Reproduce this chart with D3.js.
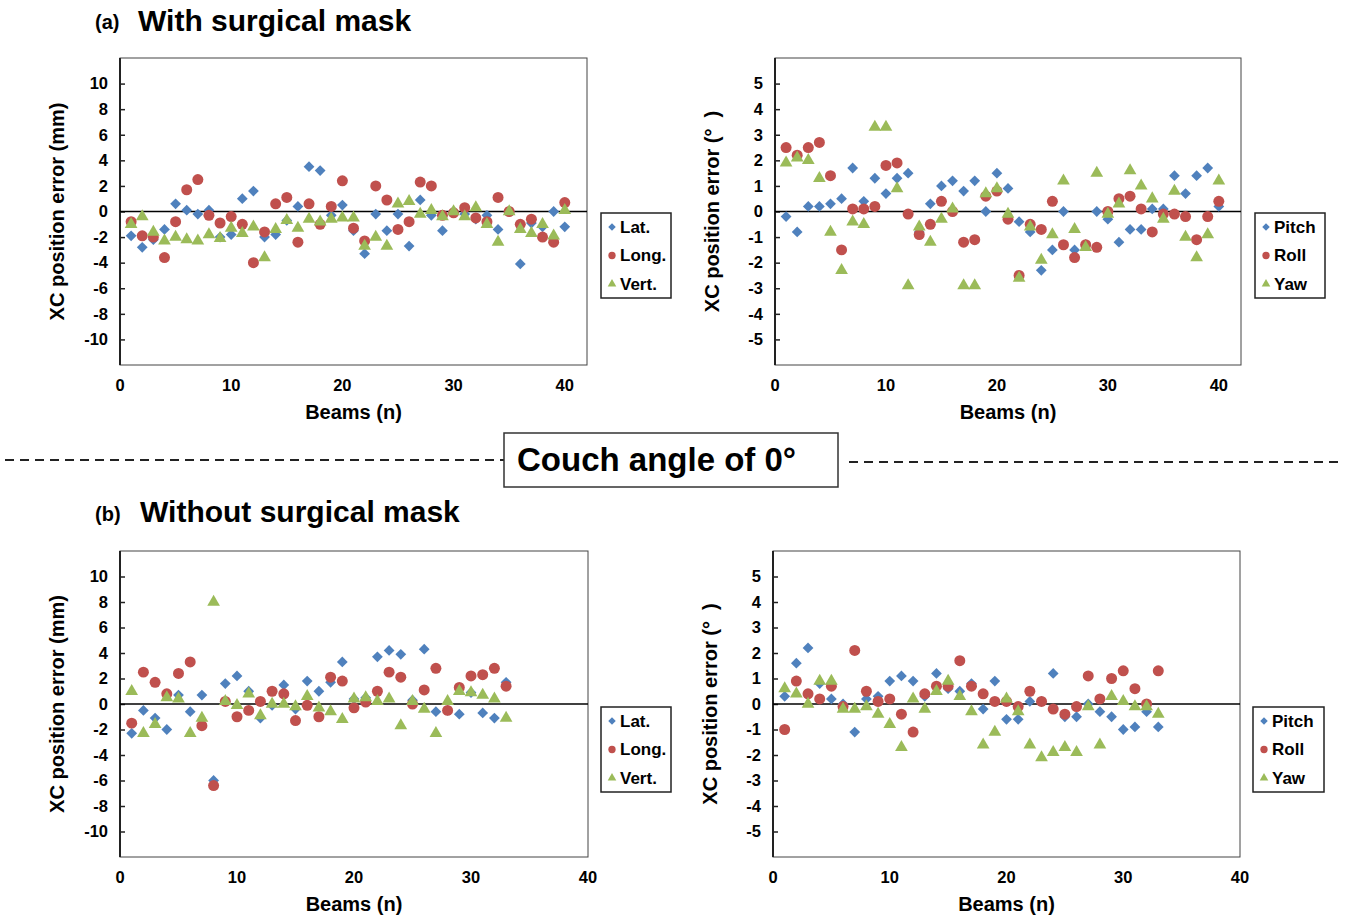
<!DOCTYPE html>
<html>
<head>
<meta charset="utf-8">
<script src="https://cdn.jsdelivr.net/npm/d3@7"></script>
<style>
  body { margin: 0; background: #fff; }
  svg text { font-family: "Liberation Sans", Arial, sans-serif; font-weight: bold; fill: #000; }
</style>
</head>
<body>
<div id="chart"></div>
<script>
// beams 1..40 (panel a), 1..33 (panel b)
const beamsA = d3.range(1, 41);
const beamsB = d3.range(1, 34);

// (a) with surgical mask, translation (mm)
const latA = [-1.9, -2.8, -2.2, -1.4, 0.6, 0.1, -0.2, 0.1, -2.0, -1.8, 1.0, 1.6, -2.0, -1.8, -0.7, 0.4, 3.5, 3.2, -0.3, 0.5,
  -1.5, -3.3, -0.2, -1.5, -0.2, -2.7, 0.9, -0.3, -1.5, 0.0, -0.2, -0.6, -0.3, -1.4, 0.0, -4.1, -0.9, -1.2, 0.0, -1.2];
const longA = [-0.8, -1.9, -2.0, -3.6, -0.8, 1.7, 2.5, -0.3, -0.9, -0.4, -1.0, -4.0, -1.6, 0.6, 1.1, -2.4, 0.6, -1.0, 0.4, 2.4,
  -1.3, -2.3, 2.0, 0.9, -1.4, -0.8, 2.3, 2.0, -0.3, -0.1, 0.3, -0.5, -0.8, 1.1, 0.0, -1.0, -0.6, -2.0, -2.4, 0.7];
const vertA = [-1.0, -0.4, -1.6, -2.3, -2.0, -2.2, -2.3, -1.8, -2.1, -1.3, -1.7, -1.2, -3.6, -1.4, -0.7, -1.3, -0.6, -0.8, -0.6, -0.5,
  -0.5, -2.7, -2.0, -2.7, 0.6, 0.8, -0.2, 0.1, -0.4, 0.0, -0.4, 0.3, -1.0, -2.4, 0.0, -1.4, -1.7, -1.0, -1.9, 0.1];

// (a) with surgical mask, rotation (deg)
const pitchA = [-0.2, -0.8, 0.2, 0.2, 0.3, 0.5, 1.7, 0.4, 1.3, 0.7, 1.3, 1.5, -0.8, 0.3, 1.0, 1.2, 0.8, 1.2, 0.0, 1.5,
  0.9, -0.4, -0.8, -2.3, -1.5, 0.0, -1.5, -1.3, 0.0, -0.3, -1.2, -0.7, -0.7, 0.1, 0.1, 1.4, 0.7, 1.4, 1.7, 0.2];
const rollA = [2.5, 2.2, 2.5, 2.7, 1.4, -1.5, 0.1, 0.1, 0.2, 1.8, 1.9, -0.1, -0.9, -0.5, 0.4, 0.0, -1.2, -1.1, 0.6, 0.8,
  -0.3, -2.5, -0.5, -0.7, 0.4, -1.3, -1.8, -1.3, -1.4, 0.0, 0.5, 0.6, 0.1, -0.8, -0.1, -0.1, -0.2, -1.1, -0.2, 0.4];
const yawA = [1.9, 2.1, 2.0, 1.3, -0.8, -2.3, -0.4, -0.5, 3.3, 3.3, 0.9, -2.9, -0.6, -1.2, -0.3, 0.1, -2.9, -2.9, 0.7, 0.9,
  -0.1, -2.6, -0.6, -1.9, -0.9, 1.2, -0.7, -1.4, 1.5, -0.1, 0.3, 1.6, 1.0, 0.5, -0.3, 0.8, -1.0, -1.8, -0.9, 1.2];

// (b) without surgical mask, translation (mm)
const latB = [-2.3, -0.5, -1.1, -2.0, 0.7, -0.6, 0.7, -6.0, 1.6, 2.2, 1.0, -1.1, -0.1, 1.5, -0.4, 1.8, 1.0, 1.7, 3.3, 0.4,
  0.5, 3.7, 4.2, 3.9, 0.3, 4.3, -0.6, -0.5, -0.8, 0.9, -0.7, -1.1, 1.7];
const longB = [-1.5, 2.5, 1.7, 0.8, 2.4, 3.3, -1.7, -6.4, 0.2, -1.0, -0.5, 0.2, 1.0, 0.8, -1.3, -0.1, -1.0, 2.1, 1.8, -0.3,
  0.15, 1.0, 2.5, 2.1, 0.0, 1.1, 2.8, -0.5, 1.3, 2.2, 2.3, 2.8, 1.4];
const vertB = [1.0, -2.3, -1.6, 0.5, 0.4, -2.3, -1.1, 8.0, 0.2, -0.1, 0.8, -0.9, 0.0, 0.0, -0.2, 0.6, -0.3, -0.6, -1.2, 0.4,
  0.5, 0.2, 0.4, -1.7, 0.2, -0.4, -2.3, 0.2, 1.0, 0.9, 0.7, 0.4, -1.1];

// (b) without surgical mask, rotation (deg)
const pitchB = [0.3, 1.6, 2.2, 0.8, 0.2, 0.0, -1.1, 0.2, 0.3, 0.9, 1.1, 0.9, 0.3, 1.2, 0.6, 0.5, 0.8, -0.2, 0.9, -0.6,
  -0.6, 0.1, 0.1, 1.2, -0.5, -0.5, 0.0, -0.3, -0.5, -1.0, -0.9, -0.3, -0.9];
const rollB = [-1.0, 0.9, 0.4, 0.2, 0.7, -0.1, 2.1, 0.5, 0.1, 0.2, -0.4, -1.1, 0.4, 0.7, 0.7, 1.7, 0.7, 0.4, 0.1, 0.1,
  -0.1, 0.5, 0.1, -0.2, -0.4, -0.1, 1.1, 0.2, 1.0, 1.3, 0.6, 0.0, 1.3];
const yawB = [0.6, 0.4, 0.0, 0.9, 0.9, -0.2, -0.2, -0.1, -0.4, -0.8, -1.7, 0.2, -0.2, 0.5, 0.9, 0.3, -0.3, -1.6, -1.1, 0.2,
  -0.3, -1.6, -2.1, -1.9, -1.7, -1.9, -0.1, -1.6, 0.3, 0.1, -0.1, -0.1, -0.4];

const transNames = ["Lat.", "Long.", "Vert."];
const rotNames = ["Pitch", "Roll", "Yaw"];
const mmTicks = [10, 8, 6, 4, 2, 0, -2, -4, -6, -8, -10];
const degTicks = [5, 4, 3, 2, 1, 0, -1, -2, -3, -4, -5];
const xTicks = [0, 10, 20, 30, 40];

const COLORS = ["#4F81BD", "#C0504D", "#9BBB59"];

const W = 1346, H = 915;
const svg = d3.select("#chart").append("svg")
    .attr("width", W)
    .attr("height", H);

// marker shapes: diamond, circle, triangle
function marker(i, big) {
    if (i === 0) return d3.symbol().type(d3.symbolSquare).size(big ? 58 : 28)();
    if (i === 1) return d3.symbol().type(d3.symbolCircle).size(big ? 95 : 42)();
    return d3.symbol().type(d3.symbolTriangle).size(big ? 70 : 32)();
}

function drawPanel(p) {
    const g = svg.append("g");
    const x = d3.scaleLinear().domain([0, p.xMax]).range([p.left, p.right]);
    const y = d3.scaleLinear().domain([-p.yMax, p.yMax]).range([p.bottom, p.top]);

    // frame
    g.append("rect")
        .attr("x", p.left).attr("y", p.top)
        .attr("width", p.right - p.left).attr("height", p.bottom - p.top)
        .attr("fill", "none").attr("stroke", "#444").attr("stroke-width", 1);

    // y axis with inner ticks
    const yAxis = d3.axisRight(y).tickValues(p.yTicks).tickSize(5).tickFormat("");
    g.append("g").attr("transform", `translate(${p.left},0)`).call(yAxis)
        .call(a => a.select(".domain").remove())
        .selectAll("line").attr("stroke", "#222").attr("stroke-width", 1.5);
    g.append("line")
        .attr("x1", p.left).attr("x2", p.left).attr("y1", p.top).attr("y2", p.bottom)
        .attr("stroke", "#222").attr("stroke-width", 2);
    g.selectAll(".ylab").data(p.yTicks).join("text")
        .attr("x", p.left - 12).attr("y", d => y(d))
        .attr("dy", "0.35em").attr("text-anchor", "end")
        .style("font-size", "16.5px").text(d => d);

    // zero line
    g.append("line")
        .attr("x1", p.left).attr("x2", p.right).attr("y1", y(0)).attr("y2", y(0))
        .attr("stroke", "#000").attr("stroke-width", 1.5);

    // x labels (low position)
    g.selectAll(".xlab").data(xTicks).join("text")
        .attr("x", d => x(d)).attr("y", p.bottom + 20)
        .attr("dy", "0.35em").attr("text-anchor", "middle")
        .style("font-size", "16.5px").text(d => d);

    // axis titles
    g.append("text")
        .attr("x", (p.left + p.right) / 2).attr("y", p.bottom + 54)
        .attr("text-anchor", "middle").style("font-size", "20px").text("Beams (n)");
    g.append("text")
        .attr("transform", `translate(${p.left - 63},${(p.top + p.bottom) / 2}) rotate(-90)`)
        .attr("text-anchor", "middle").attr("dy", "0.35em")
        .style("font-size", "20px").style("white-space", "pre").text(p.yTitle);

    // points
    p.series.forEach((s, i) => {
        g.append("g").selectAll("path").data(s).join("path")
            .attr("d", marker(i, true))
            .attr("transform", (d, k) => `translate(${x(p.beams[k])},${y(d)})` + (i === 0 ? " rotate(45)" : ""))
            .attr("fill", COLORS[i]);
    });

    // legend
    const lg = g.append("g").attr("transform", `translate(${p.legX},${p.legY})`);
    lg.append("rect").attr("width", p.legW).attr("height", 85)
        .attr("fill", "#fff").attr("stroke", "#222").attr("stroke-width", 1.5);
    p.names.forEach((n, i) => {
        lg.append("path").attr("d", marker(i, false))
            .attr("transform", `translate(11,${14 + i * 28.5})` + (i === 0 ? " rotate(45)" : ""))
            .attr("fill", COLORS[i]);
        lg.append("text").attr("x", 19).attr("y", 14 + i * 28.5).attr("dy", "0.35em")
            .style("font-size", "17px").text(n);
    });
}

drawPanel({ left: 120, right: 587, top: 58, bottom: 365, xMax: 42, yMax: 12, yTicks: mmTicks,
    beams: beamsA, series: [latA, longA, vertA], names: transNames, yTitle: "XC position error (mm)",
    legX: 601, legY: 213, legW: 70 });
drawPanel({ left: 775, right: 1241, top: 58, bottom: 365, xMax: 42, yMax: 6, yTicks: degTicks,
    beams: beamsA, series: [pitchA, rollA, yawA], names: rotNames, yTitle: "XC position error (°  )",
    legX: 1255, legY: 213, legW: 70 });
drawPanel({ left: 120, right: 588, top: 551, bottom: 857, xMax: 40, yMax: 12, yTicks: mmTicks,
    beams: beamsB, series: [latB, longB, vertB], names: transNames, yTitle: "XC position error (mm)",
    legX: 601, legY: 707, legW: 70 });
drawPanel({ left: 773, right: 1240, top: 551, bottom: 857, xMax: 40, yMax: 6, yTicks: degTicks,
    beams: beamsB, series: [pitchB, rollB, yawB], names: rotNames, yTitle: "XC position error (°  )",
    legX: 1253, legY: 707, legW: 71 });

// panel titles
svg.append("text").attr("x", 95).attr("y", 29).style("font-size", "20px").text("(a)");
svg.append("text").attr("x", 138).attr("y", 31).style("font-size", "30px").text("With surgical mask");
svg.append("text").attr("x", 95).attr("y", 521).style("font-size", "20px").text("(b)");
svg.append("text").attr("x", 140).attr("y", 522).style("font-size", "30px").text("Without surgical mask");

// divider
svg.append("line").attr("x1", 5).attr("x2", 504).attr("y1", 460).attr("y2", 460)
    .attr("stroke", "#222").attr("stroke-width", 2).attr("stroke-dasharray", "9,6");
svg.append("line").attr("x1", 849).attr("x2", 1340).attr("y1", 462).attr("y2", 462)
    .attr("stroke", "#222").attr("stroke-width", 2).attr("stroke-dasharray", "9,6");
svg.append("rect").attr("x", 504).attr("y", 433).attr("width", 334).attr("height", 54)
    .attr("fill", "#fff").attr("stroke", "#333").attr("stroke-width", 1.5);
svg.append("text").attr("x", 517).attr("y", 471).style("font-size", "33px").text("Couch angle of 0°");
</script>
</body>
</html>
